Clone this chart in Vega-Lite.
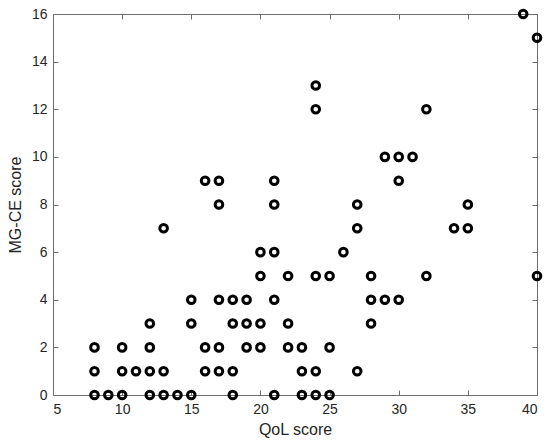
{
  "$schema": "https://vega.github.io/schema/vega-lite/v6.json",
  "autosize": "none",
  "width": 484,
  "height": 381,
  "padding": {"left": 53, "top": 14, "right": 13, "bottom": 50},
  "background": "white",
  "config": {
    "view": {"stroke": "#6e6e6e", "strokeWidth": 1},
    "axis": {
      "labelFont": "Liberation Sans",
      "titleFont": "Liberation Sans",
      "labelFontSize": 14,
      "titleFontSize": 16,
      "labelColor": "#262626",
      "titleColor": "#262626",
      "titleFontWeight": "normal",
      "grid": false,
      "domain": false,
      "tickColor": "#6e6e6e",
      "tickSize": -5,
      "tickWidth": 1
    }
  },
  "data": {
    "values": [
      {"qol": 8, "mgce": 0}, {"qol": 9, "mgce": 0}, {"qol": 10, "mgce": 0}, {"qol": 12, "mgce": 0}, {"qol": 13, "mgce": 0}, {"qol": 14, "mgce": 0}, {"qol": 15, "mgce": 0}, {"qol": 18, "mgce": 0}, {"qol": 21, "mgce": 0}, {"qol": 23, "mgce": 0}, {"qol": 24, "mgce": 0}, {"qol": 25, "mgce": 0},
      {"qol": 8, "mgce": 1}, {"qol": 10, "mgce": 1}, {"qol": 11, "mgce": 1}, {"qol": 12, "mgce": 1}, {"qol": 13, "mgce": 1}, {"qol": 16, "mgce": 1}, {"qol": 17, "mgce": 1}, {"qol": 18, "mgce": 1}, {"qol": 23, "mgce": 1}, {"qol": 24, "mgce": 1}, {"qol": 27, "mgce": 1},
      {"qol": 8, "mgce": 2}, {"qol": 10, "mgce": 2}, {"qol": 12, "mgce": 2}, {"qol": 16, "mgce": 2}, {"qol": 17, "mgce": 2}, {"qol": 19, "mgce": 2}, {"qol": 20, "mgce": 2}, {"qol": 22, "mgce": 2}, {"qol": 23, "mgce": 2}, {"qol": 25, "mgce": 2},
      {"qol": 12, "mgce": 3}, {"qol": 15, "mgce": 3}, {"qol": 18, "mgce": 3}, {"qol": 19, "mgce": 3}, {"qol": 20, "mgce": 3}, {"qol": 22, "mgce": 3}, {"qol": 28, "mgce": 3},
      {"qol": 15, "mgce": 4}, {"qol": 17, "mgce": 4}, {"qol": 18, "mgce": 4}, {"qol": 19, "mgce": 4}, {"qol": 21, "mgce": 4}, {"qol": 28, "mgce": 4}, {"qol": 29, "mgce": 4}, {"qol": 30, "mgce": 4},
      {"qol": 20, "mgce": 5}, {"qol": 22, "mgce": 5}, {"qol": 24, "mgce": 5}, {"qol": 25, "mgce": 5}, {"qol": 28, "mgce": 5}, {"qol": 32, "mgce": 5}, {"qol": 40, "mgce": 5},
      {"qol": 20, "mgce": 6}, {"qol": 21, "mgce": 6}, {"qol": 26, "mgce": 6},
      {"qol": 13, "mgce": 7}, {"qol": 27, "mgce": 7}, {"qol": 34, "mgce": 7}, {"qol": 35, "mgce": 7},
      {"qol": 17, "mgce": 8}, {"qol": 21, "mgce": 8}, {"qol": 27, "mgce": 8}, {"qol": 35, "mgce": 8},
      {"qol": 16, "mgce": 9}, {"qol": 17, "mgce": 9}, {"qol": 21, "mgce": 9}, {"qol": 30, "mgce": 9},
      {"qol": 29, "mgce": 10}, {"qol": 30, "mgce": 10}, {"qol": 31, "mgce": 10},
      {"qol": 24, "mgce": 12}, {"qol": 32, "mgce": 12},
      {"qol": 24, "mgce": 13},
      {"qol": 40, "mgce": 15},
      {"qol": 39, "mgce": 16}
    ]
  },
  "layer": [
    {
      "mark": {"type": "point", "shape": "circle", "filled": false, "stroke": "black", "strokeWidth": 3, "size": 58, "opacity": 1, "clip": false},
      "encoding": {
        "x": {"field": "qol", "type": "quantitative", "title": "QoL score",
              "scale": {"domain": [5, 40], "nice": false, "zero": false},
              "axis": {"values": [5, 10, 15, 20, 25, 30, 35, 40], "labelFontSize": 14, "titleFontSize": 16, "labelPadding": 12, "titlePadding": 5, "orient": "bottom"}},
        "y": {"field": "mgce", "type": "quantitative", "title": "MG-CE score",
              "scale": {"domain": [0, 16], "nice": false, "zero": false},
              "axis": {"values": [0, 2, 4, 6, 8, 10, 12, 14, 16], "labelFontSize": 14, "titleFontSize": 16, "labelPadding": 11, "titlePadding": 8, "orient": "left"}}
      }
    },
    {
      "mark": {"type": "point", "opacity": 0},
      "encoding": {
        "x": {"field": "qol", "type": "quantitative",
              "scale": {"domain": [5, 40], "nice": false, "zero": false},
              "axis": {"orient": "top", "values": [5, 10, 15, 20, 25, 30, 35, 40], "labels": false, "title": null}},
        "y": {"field": "mgce", "type": "quantitative",
              "scale": {"domain": [0, 16], "nice": false, "zero": false},
              "axis": {"orient": "right", "values": [0, 2, 4, 6, 8, 10, 12, 14, 16], "labels": false, "title": null}}
      }
    }
  ],
  "resolve": {"axis": {"x": "independent", "y": "independent"}}
}
